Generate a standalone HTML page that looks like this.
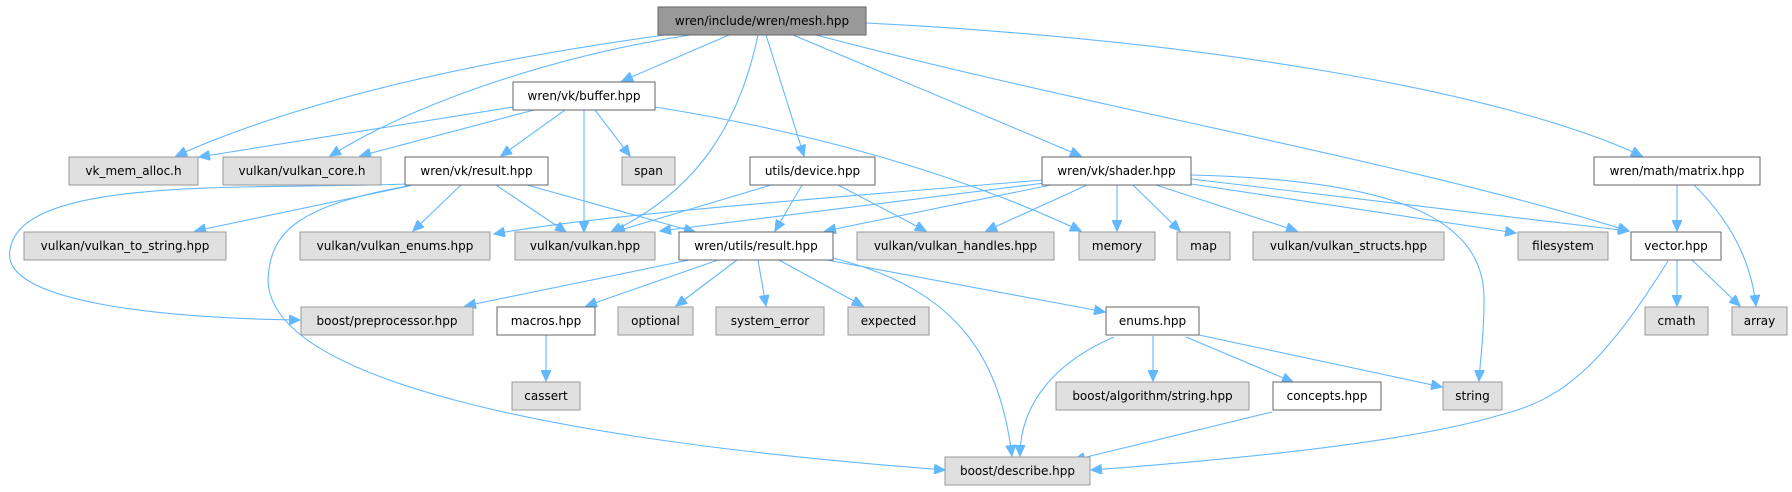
<!DOCTYPE html>
<html><head><meta charset="utf-8"><style>
html,body{margin:0;padding:0;background:#fff;}
svg{display:block;}
text{font-family:"DejaVu Sans","Liberation Sans",sans-serif;font-size:12px;fill:#000;text-anchor:middle;dominant-baseline:central;}
.w{fill:#fff;stroke:#666;stroke-width:1;}
.g{fill:#e0e0e0;stroke:#999;stroke-width:1;}
.m{fill:#999;stroke:#666;stroke-width:1;}
path{fill:none;stroke:#63b8ff;stroke-width:1.1;}
</style></head><body>
<svg width="1792" height="492" viewBox="0 0 1792 492" xmlns="http://www.w3.org/2000/svg">
<defs><marker id="a" markerUnits="userSpaceOnUse" markerWidth="12" markerHeight="10" refX="11" refY="5" orient="auto"><path d="M0,0 L11,5 L0,10 Z" style="fill:#63b8ff;stroke:#63b8ff"/></marker></defs>
<g marker-end="url(#a)">
<path d="M672,34 C480,60 300,100 176,156"/>
<path d="M690,35 C560,55 420,100 330,156"/>
<path d="M729,35 L622,81"/>
<path d="M758,35 C740,120 700,190 611,232"/>
<path d="M766,35 L804,156"/>
<path d="M793,35 L1081,156"/>
<path d="M816,35 C1100,110 1400,160 1629,231"/>
<path d="M866,23 C1200,40 1500,90 1642,156"/>
<path d="M513,107 L199,157"/>
<path d="M534,110 L360,156"/>
<path d="M565,110 L501,156"/>
<path d="M584,110 L584,232"/>
<path d="M595,110 L630,156"/>
<path d="M655,107 C800,130 950,170 1081,231"/>
<path d="M409,186 L195,231"/>
<path d="M461,185 L413,231"/>
<path d="M496,185 L566,232"/>
<path d="M527,185 L695,232"/>
<path d="M406,184 C250,190 20,175 10,250 C0,300 150,318 300,320"/>
<path d="M413,185 C300,205 270,230 268,280 C270,380 550,440 945,470"/>
<path d="M771,185 L614,232"/>
<path d="M802,185 L775,231"/>
<path d="M838,185 L926,231"/>
<path d="M1043,180 C800,200 600,215 494,234"/>
<path d="M1045,183 L660,231"/>
<path d="M1051,185 L825,231"/>
<path d="M1087,185 L986,231"/>
<path d="M1117,185 L1117,231"/>
<path d="M1133,185 L1180,231"/>
<path d="M1156,185 L1297,231"/>
<path d="M1191,184 L1516,233"/>
<path d="M1191,179 L1629,231"/>
<path d="M1191,175 C1400,180 1485,220 1484,300 C1484,340 1480,360 1479,381"/>
<path d="M1677,184 L1677,231"/>
<path d="M1692,183 C1720,210 1750,250 1756,306"/>
<path d="M689,260 L465,306"/>
<path d="M718,260 L586,306"/>
<path d="M737,260 L676,306"/>
<path d="M758,260 L766,306"/>
<path d="M779,260 L863,306"/>
<path d="M827,260 L1105,312"/>
<path d="M833,258 C960,290 1000,360 1012,456"/>
<path d="M546,335 L546,381"/>
<path d="M1114,337 C1060,360 1020,400 1020,456"/>
<path d="M1153,336 L1153,381"/>
<path d="M1186,337 L1293,382"/>
<path d="M1199,335 L1442,387"/>
<path d="M1272,412 L1074,460"/>
<path d="M1677,260 L1677,306"/>
<path d="M1692,260 L1740,306"/>
<path d="M1668,261 C1600,370 1560,400 1500,415 C1400,445 1200,462 1091,470"/>
</g>
<!-- nodes -->
<rect class="m" x="658" y="7" width="208" height="28"/><text x="762" y="21">wren/include/wren/mesh.hpp</text>
<rect class="w" x="513" y="82" width="142" height="28"/><text x="584" y="96">wren/vk/buffer.hpp</text>
<rect class="g" x="69" y="157" width="129" height="28"/><text x="133.5" y="171">vk_mem_alloc.h</text>
<rect class="g" x="223" y="157" width="158" height="28"/><text x="302" y="171">vulkan/vulkan_core.h</text>
<rect class="w" x="405" y="157" width="143" height="28"/><text x="476.5" y="171">wren/vk/result.hpp</text>
<rect class="g" x="622" y="157" width="53" height="28"/><text x="648.5" y="171">span</text>
<rect class="w" x="750" y="157" width="125" height="28"/><text x="812.5" y="171">utils/device.hpp</text>
<rect class="w" x="1042" y="157" width="149" height="28"/><text x="1116.5" y="171">wren/vk/shader.hpp</text>
<rect class="w" x="1594" y="157" width="166" height="28"/><text x="1677" y="171">wren/math/matrix.hpp</text>
<rect class="g" x="24" y="232" width="202" height="28"/><text x="125" y="246">vulkan/vulkan_to_string.hpp</text>
<rect class="g" x="300" y="232" width="190" height="28"/><text x="395" y="246">vulkan/vulkan_enums.hpp</text>
<rect class="g" x="515" y="232" width="140" height="28"/><text x="585" y="246">vulkan/vulkan.hpp</text>
<rect class="w" x="679" y="232" width="154" height="28"/><text x="756" y="246">wren/utils/result.hpp</text>
<rect class="g" x="857" y="232" width="197" height="28"/><text x="955.5" y="246">vulkan/vulkan_handles.hpp</text>
<rect class="g" x="1079" y="232" width="76" height="28"/><text x="1117" y="246">memory</text>
<rect class="g" x="1177" y="232" width="53" height="28"/><text x="1203.5" y="246">map</text>
<rect class="g" x="1253" y="232" width="191" height="28"/><text x="1348.5" y="246">vulkan/vulkan_structs.hpp</text>
<rect class="g" x="1518" y="232" width="90" height="28"/><text x="1563" y="246">filesystem</text>
<rect class="w" x="1631" y="232" width="90" height="28"/><text x="1676" y="246">vector.hpp</text>
<rect class="g" x="301" y="307" width="172" height="28"/><text x="387" y="321">boost/preprocessor.hpp</text>
<rect class="w" x="497" y="307" width="98" height="28"/><text x="546" y="321">macros.hpp</text>
<rect class="g" x="618" y="307" width="75" height="28"/><text x="655.5" y="321">optional</text>
<rect class="g" x="716" y="307" width="108" height="28"/><text x="770" y="321">system_error</text>
<rect class="g" x="848" y="307" width="81" height="28"/><text x="888.5" y="321">expected</text>
<rect class="w" x="1106" y="307" width="93" height="28"/><text x="1152.5" y="321">enums.hpp</text>
<rect class="g" x="1645" y="307" width="63" height="28"/><text x="1676.5" y="321">cmath</text>
<rect class="g" x="1732" y="307" width="55" height="28"/><text x="1759.5" y="321">array</text>
<rect class="g" x="512" y="382" width="68" height="28"/><text x="546" y="396">cassert</text>
<rect class="g" x="1056" y="382" width="193" height="28"/><text x="1152.5" y="396">boost/algorithm/string.hpp</text>
<rect class="w" x="1273" y="382" width="108" height="28"/><text x="1327" y="396">concepts.hpp</text>
<rect class="g" x="1443" y="382" width="59" height="28"/><text x="1472.5" y="396">string</text>
<rect class="g" x="945" y="457" width="145" height="28"/><text x="1017.5" y="471">boost/describe.hpp</text>
</svg>
</body></html>
